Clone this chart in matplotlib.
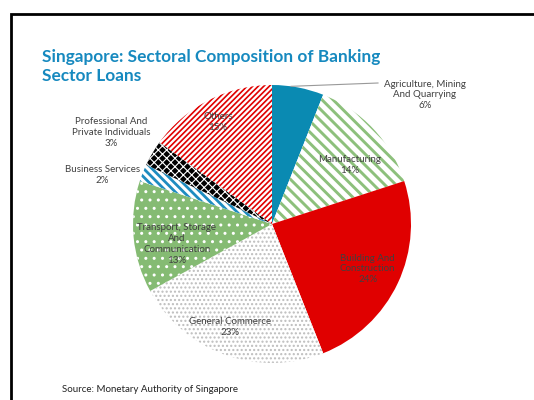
import numpy as np
import matplotlib.pyplot as plt
from matplotlib.patches import Rectangle

plt.rcParams['font.family'] = ['Lato', 'DejaVu Sans']

sectors = ["Agriculture, Mining\nAnd Quarrying", "Manufacturing", "Building And\nConstruction",
           "General Commerce", "Transport, Storage\nAnd\nCommunication", "Business Services",
           "Professional And\nPrivate Individuals", "Others"]
shares = [6, 14, 24, 23, 13, 2, 3, 15]

# wedge styles: face, hatch, hatch colour, hatch line width
faces = ["#0A8AB2", "white", "#E00000", "white", "#85BB73", "white", "black", "white"]
hatches = [None, "\\\\\\", None, "....", "..", "\\\\\\\\", "xxxx", "//////"]
hatch_cols = ["#0A8AB2", "#8DC07C", "#E00000", "#BDBDBD", "white", "#1E8CC0", "white", "#E00000"]
hatch_lws = [1, 2.1, 1, 1, 1, 2.0, 0.8, 1.2]

# label placement (radius fraction, angle nudge in degrees)
lab_r = [1.44, 0.70, 0.76, 0.80, 0.70, 1.27, 1.33, 0.83]
lab_nudge = [-39, -6, 0, -2.5, 6.5, 5.5, 1, 1]

W, H = 534, 400
cx, cy, R = 272, H - 224, 139

fig = plt.figure(figsize=(5.34, 4), dpi=100)
ax = fig.add_axes([0, 0, 1, 1])

wedges, _ = ax.pie(shares, startangle=90, counterclock=False, radius=R, center=(cx, cy),
                   colors=faces, wedgeprops=dict(linewidth=0))
for w, h, hc, lw in zip(wedges, hatches, hatch_cols, hatch_lws):
    w.set_edgecolor(hc)
    w.set_linewidth(0)
    if h:
        w.set_hatch(h)
        w.set_hatch_linewidth(lw)

ax.set_xlim(0, W)
ax.set_ylim(0, H)
ax.set_aspect('equal')
ax.axis('off')

# labels
cum = np.cumsum([0] + shares)
for i, name in enumerate(sectors):
    mid = 90 - 360 * (cum[i] + cum[i + 1]) / 2 / 100
    a = np.radians(mid + lab_nudge[i])
    x = cx + R * lab_r[i] * np.cos(a)
    y = cy + R * lab_r[i] * np.sin(a)
    ax.text(x, y, f"{name}\n{shares[i]}%", ha='center', va='center', fontsize=7,
            color='#404040', linespacing=1.25)

# leader line for agriculture
a0 = np.radians(90 - 360 * 0.022)
ax.plot([cx + R * np.cos(a0), 378], [cy + R * np.sin(a0), H - 83], color='#999999', lw=0.8)

ax.text(42, H - 81, "Singapore: Sectoral Composition of Banking\nSector Loans", fontsize=12.4,
        fontweight='bold', color='#1689BF', ha='left', va='baseline', linespacing=1.2)
ax.text(62, H - 392, "Source: Monetary Authority of Singapore", fontsize=7, color='#222222',
        ha='left', va='baseline')

# frame around chart
ax.add_patch(Rectangle((11, -20), 600, H - 14 + 20, fill=False, edgecolor='black', lw=2,
                       clip_on=False))

fig.savefig("out.png", dpi=100)
